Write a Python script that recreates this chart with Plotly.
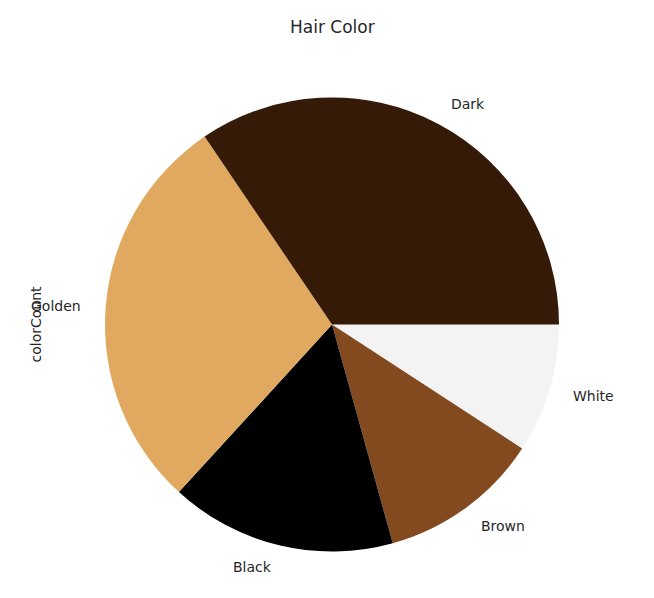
import math
import plotly.graph_objects as go

categories = ["Dark", "Golden", "Black", "Brown", "White"]
counts = [30, 25, 14, 10, 8]
colors = ["#341a07", "#e0a95f", "#000000", "#834a20", "#f3f3f3"]

W, H = 654, 598
cx, cy, r = 332, 324.5, 227  # pixel layout of pie (from top-left)

# matplotlib draws counterclockwise from 3 o'clock; equivalently draw the
# reversed order clockwise from 3 o'clock
fig = go.Figure(go.Pie(
    labels=categories[::-1], values=counts[::-1], sort=False,
    direction="clockwise", rotation=90,
    marker=dict(colors=colors[::-1], line=dict(width=0)),
    textinfo="none", hoverinfo="label+value", showlegend=False,
    domain=dict(x=[(cx - r) / W, (cx + r) / W], y=[(H - cy - r) / H, (H - cy + r) / H]),
))

annotations = []
total = sum(counts)
start = 0.0
for lab, v in zip(categories, counts):
    frac = v / total
    mid = (start + frac / 2) * 2 * math.pi
    start += frac
    px = cx + 1.1 * r * math.cos(mid)
    py = cy - 1.1 * r * math.sin(mid)
    annotations.append(dict(
        text=lab, x=px / W, y=1 - py / H, xref="paper", yref="paper",
        xanchor="left" if math.cos(mid) > 0 else "right", yanchor="middle",
        showarrow=False, font=dict(family="DejaVu Sans", size=14, color="#262626"),
    ))

annotations.append(dict(
    text="colorCount", x=35 / W, y=1 - cy / H, xref="paper", yref="paper",
    xanchor="center", yanchor="middle", textangle=-90, showarrow=False,
    font=dict(family="DejaVu Sans", size=14, color="#262626"),
))
annotations.append(dict(
    text="Hair Color", x=cx / W, y=1 - 27 / H, xref="paper", yref="paper",
    xanchor="center", yanchor="middle", showarrow=False,
    font=dict(family="DejaVu Sans", size=17, color="#262626"),
))

fig.update_layout(
    width=W, height=H, margin=dict(l=0, r=0, t=0, b=0),
    paper_bgcolor="white", plot_bgcolor="white",
    annotations=annotations,
)
fig.write_html("out.html")
